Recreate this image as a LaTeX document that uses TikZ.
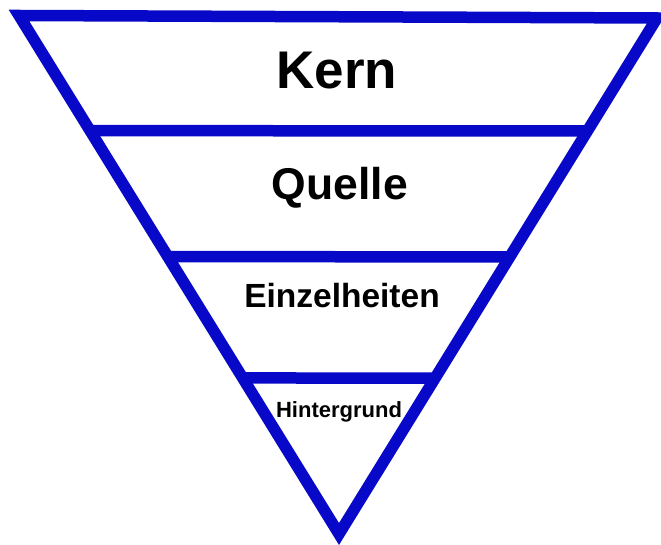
\documentclass[tikz,border=0pt]{standalone}
\usepackage{fontspec}
\setmainfont{Liberation Sans}
\usetikzlibrary{calc}
\definecolor{tblue}{RGB}{8,8,200}
\tikzset{
  edge/.style={draw=tblue, line width=11.5pt},
  lbl/.style={font=\bfseries, text=black, inner sep=0pt, anchor=base}
}
\begin{document}
\begin{tikzpicture}[x=1pt,y=-1pt]
\useasboundingbox (0,0) rectangle (661,545);
\clip (0,0) rectangle (661,545);
\fill[white] (0,0) rectangle (661,545);
\coordinate (TL) at (19,15.5);
\coordinate (TR) at (657,18);
\coordinate (A) at (339,534);
\draw[edge, line join=miter] (TL) -- (TR) -- (A) -- cycle;
\coordinate (L1) at ($(TL)!0.222!(A)$);
\coordinate (R1) at ($(TR)!0.219!(A)$);
\coordinate (L2) at ($(TL)!0.465!(A)$);
\coordinate (R2) at ($(TR)!0.463!(A)$);
\coordinate (L3) at ($(TL)!0.699!(A)$);
\coordinate (R3) at ($(TR)!0.698!(A)$);
\draw[edge] (L1) -- (R1);
\draw[edge] (L2) -- (R2);
\draw[edge] (L3) -- (R3);
\node[lbl, font=\fontsize{53}{62}\selectfont\bfseries] (kern) at (337,89) {Kern};
\node[lbl, font=\fontsize{44.5}{52}\selectfont\bfseries] (quelle) at (340,200) {Quelle};
\node[lbl, font=\fontsize{33.5}{40}\selectfont\bfseries] (einz) at (342,308) {Einzelheiten};
\node[lbl, font=\fontsize{22}{26}\selectfont\bfseries] (hint) at (339,417) {Hintergrund};
\end{tikzpicture}
\end{document}
